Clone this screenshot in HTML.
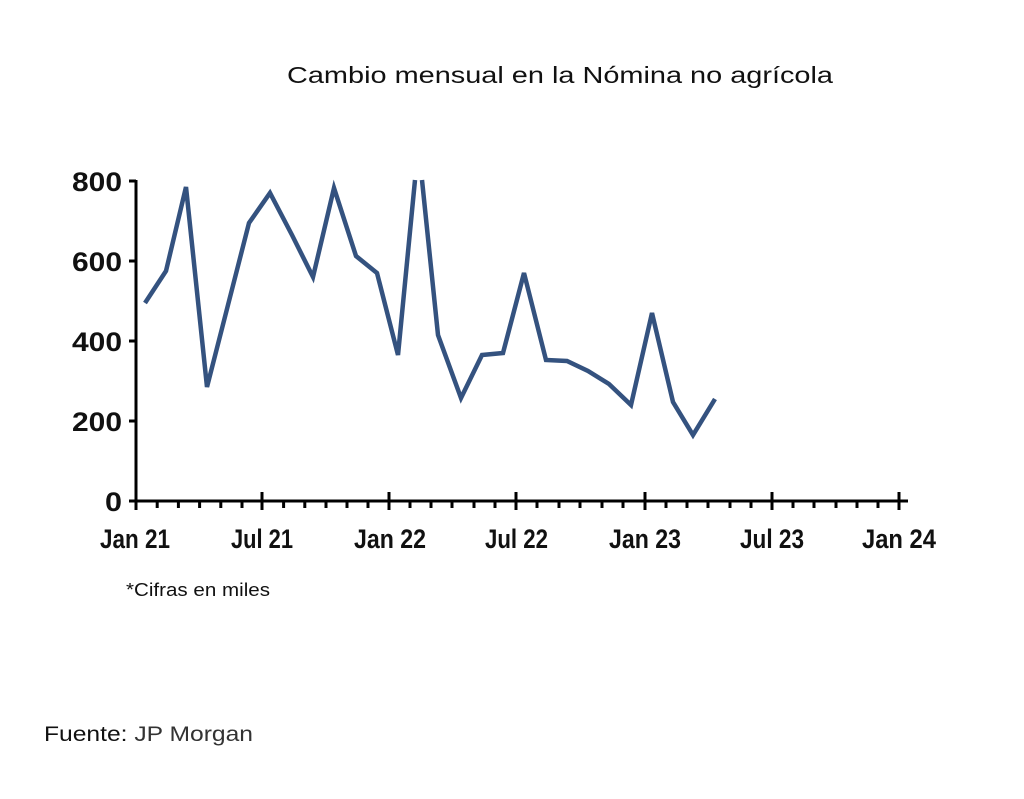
<!DOCTYPE html>
<html><head><meta charset="utf-8"><style>
body{margin:0;background:#fff;width:1024px;height:794px;overflow:hidden;font-family:"Liberation Sans",sans-serif}
</style></head><body>
<svg width="1024" height="794" xmlns="http://www.w3.org/2000/svg">
<text x="287" y="83" textLength="546" lengthAdjust="spacingAndGlyphs" font-size="23" fill="#111" font-family="Liberation Sans">Cambio mensual en la Nómina no agrícola</text>
<g font-family="Liberation Sans" font-weight="bold" font-size="27" fill="#111">
<text x="72" y="191" textLength="50" lengthAdjust="spacingAndGlyphs">800</text>
<text x="72" y="271" textLength="50" lengthAdjust="spacingAndGlyphs">600</text>
<text x="72" y="351" textLength="50" lengthAdjust="spacingAndGlyphs">400</text>
<text x="72" y="431" textLength="50" lengthAdjust="spacingAndGlyphs">200</text>
<text x="105" y="511" textLength="17" lengthAdjust="spacingAndGlyphs">0</text>
<text x="100" y="548" textLength="70" lengthAdjust="spacingAndGlyphs">Jan 21</text>
<text x="231" y="548" textLength="62" lengthAdjust="spacingAndGlyphs">Jul 21</text>
<text x="354" y="548" textLength="72" lengthAdjust="spacingAndGlyphs">Jan 22</text>
<text x="485" y="548" textLength="63" lengthAdjust="spacingAndGlyphs">Jul 22</text>
<text x="609" y="548" textLength="72" lengthAdjust="spacingAndGlyphs">Jan 23</text>
<text x="740" y="548" textLength="64" lengthAdjust="spacingAndGlyphs">Jul 23</text>
<text x="862" y="548" textLength="74" lengthAdjust="spacingAndGlyphs">Jan 24</text>
</g>
<g stroke="#000" stroke-width="3">
<line x1="136" y1="180" x2="136" y2="510"/>
<line x1="129" y1="181" x2="136" y2="181"/>
<line x1="129" y1="261" x2="136" y2="261"/>
<line x1="129" y1="341" x2="136" y2="341"/>
<line x1="129" y1="421" x2="136" y2="421"/>
<line x1="129" y1="501" x2="908" y2="501"/>
</g>
<g stroke="#000" stroke-width="3">
<line x1="157.2" y1="501" x2="157.2" y2="508"/><line x1="178.4" y1="501" x2="178.4" y2="508"/><line x1="199.6" y1="501" x2="199.6" y2="508"/><line x1="220.8" y1="501" x2="220.8" y2="508"/><line x1="242" y1="501" x2="242" y2="508"/>
<line x1="283.6" y1="501" x2="283.6" y2="508"/><line x1="304.8" y1="501" x2="304.8" y2="508"/><line x1="326" y1="501" x2="326" y2="508"/><line x1="347" y1="501" x2="347" y2="508"/><line x1="368" y1="501" x2="368" y2="508"/>
<line x1="410" y1="501" x2="410" y2="508"/><line x1="431" y1="501" x2="431" y2="508"/><line x1="452" y1="501" x2="452" y2="508"/><line x1="474" y1="501" x2="474" y2="508"/><line x1="495" y1="501" x2="495" y2="508"/>
<line x1="537" y1="501" x2="537" y2="508"/><line x1="559" y1="501" x2="559" y2="508"/><line x1="580" y1="501" x2="580" y2="508"/><line x1="602" y1="501" x2="602" y2="508"/><line x1="623" y1="501" x2="623" y2="508"/>
<line x1="666" y1="501" x2="666" y2="508"/><line x1="687" y1="501" x2="687" y2="508"/><line x1="708" y1="501" x2="708" y2="508"/><line x1="730" y1="501" x2="730" y2="508"/><line x1="751" y1="501" x2="751" y2="508"/>
<line x1="793" y1="501" x2="793" y2="508"/><line x1="814" y1="501" x2="814" y2="508"/><line x1="836" y1="501" x2="836" y2="508"/><line x1="857" y1="501" x2="857" y2="508"/><line x1="878" y1="501" x2="878" y2="508"/>
<line x1="262" y1="492" x2="262" y2="510"/><line x1="389" y1="492" x2="389" y2="510"/><line x1="516" y1="492" x2="516" y2="510"/><line x1="645" y1="492" x2="645" y2="510"/><line x1="772" y1="492" x2="772" y2="510"/><line x1="899" y1="492" x2="899" y2="510"/>
</g>
<polyline fill="none" stroke="#34527f" stroke-width="4.5" points="145,303 166,271 186,187 207,387 228,305 249,223 270,193 292,235 313,277 334,188 356,256 377,273 398,355 415,180"/>
<polyline fill="none" stroke="#34527f" stroke-width="4.5" points="422,180 438,335 461,398 482,355 503,353 524,273 546,360 567,361 588,371 609,384 631,405 652,313 673,402 693,435 715,399"/>
<text x="126" y="596" font-size="18" textLength="144" lengthAdjust="spacingAndGlyphs" fill="#111">*Cifras en miles</text>
<text x="44" y="741" font-size="21" textLength="209" lengthAdjust="spacingAndGlyphs" fill="#111">Fuente: <tspan fill="#333">JP Morgan</tspan></text>
</svg>
</body></html>
